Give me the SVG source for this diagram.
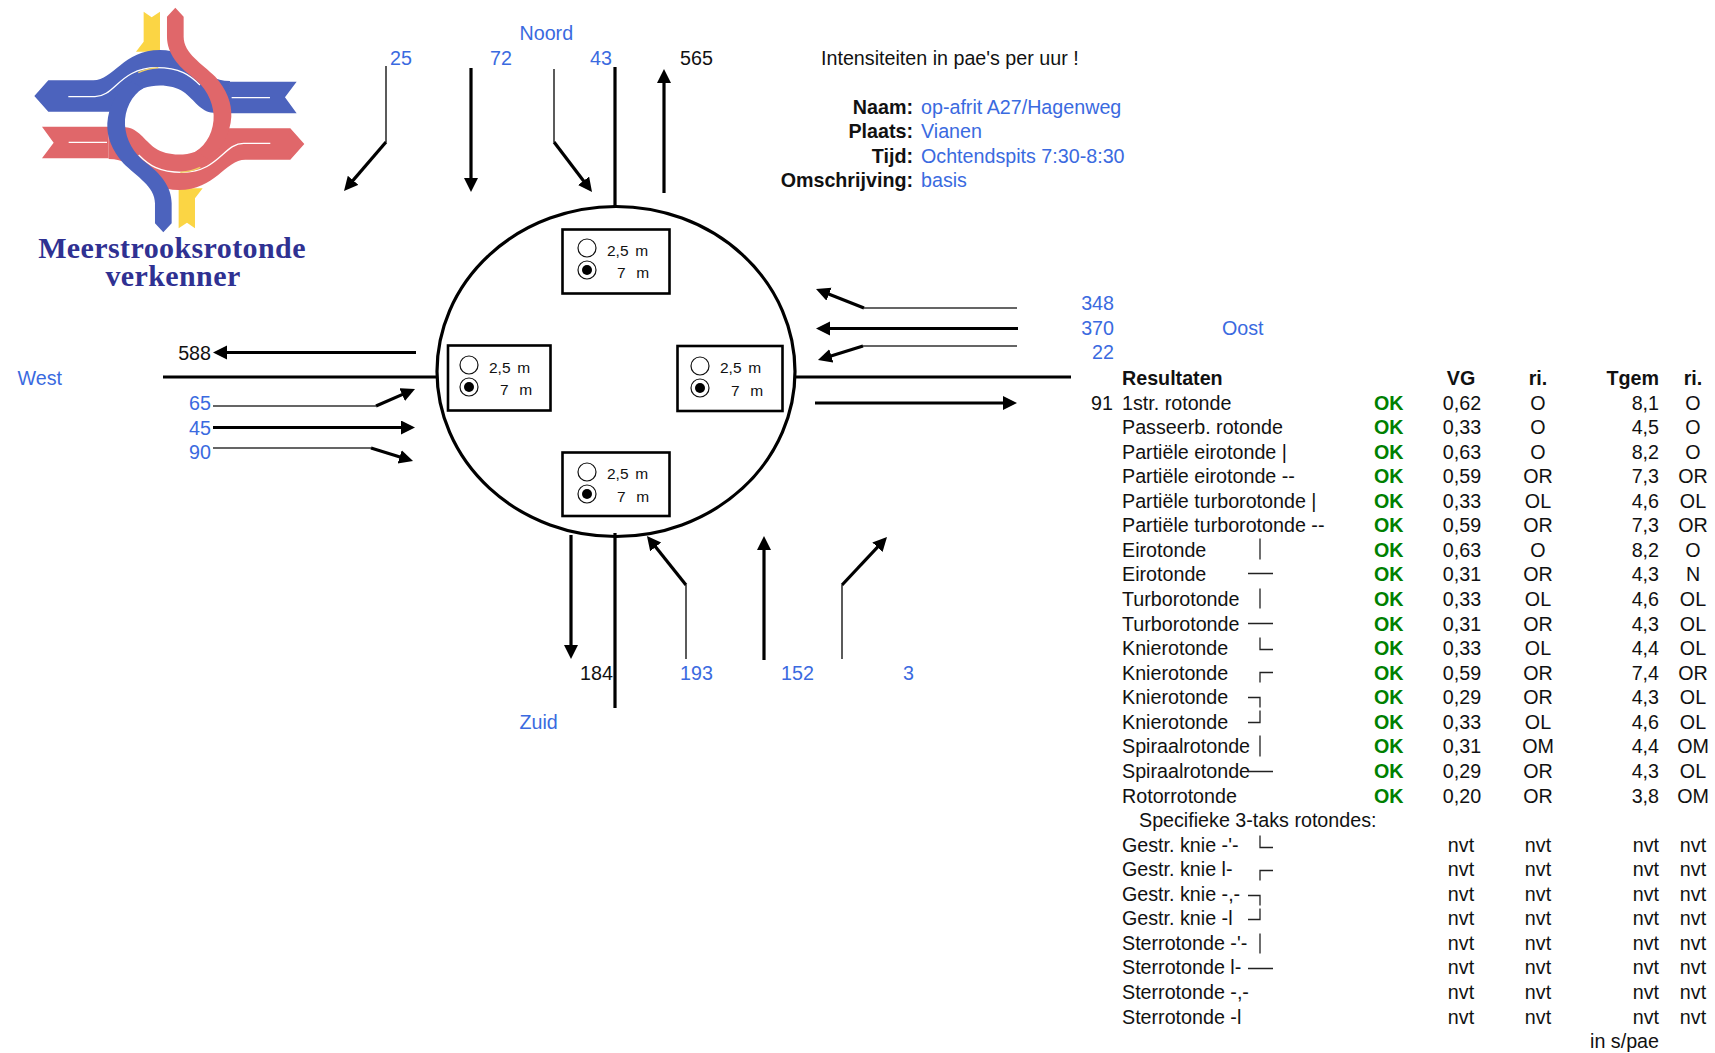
<svg xmlns="http://www.w3.org/2000/svg" width="1715" height="1053" viewBox="0 0 1715 1053">
<defs>
<style>
text{font-family:"Liberation Sans",Arial,sans-serif;font-size:19.7px;fill:#111;white-space:pre}
.b{fill:#3a6ae0}
.e{text-anchor:end}
.m{text-anchor:middle}
.h{font-weight:bold}
.ok{font-weight:bold;fill:#008000}
.s{font-size:15.5px}
.t{font-family:"Liberation Serif","Times New Roman",serif;font-weight:bold;font-size:30px;letter-spacing:.4px;fill:#2f3192;text-anchor:middle}
.thin{fill:none;stroke:#333;stroke-width:1.6}
.thick{fill:none;stroke:#000;stroke-width:3.2}
.ar{fill:none;stroke:#000;stroke-width:3.2;marker-end:url(#ah)}
.box{fill:#fff;stroke:#000;stroke-width:2.6}
.ro{fill:#fff;stroke:#111;stroke-width:1.2}
.rd{fill:#000}
.sym{fill:none;stroke:#222;stroke-width:1.3}
</style>
<marker id="ah" markerUnits="userSpaceOnUse" markerWidth="15" markerHeight="15" refX="8" refY="7" orient="auto"><path d="M0,0L14,7L0,14z" fill="#000"/></marker>
<g id="radio"><circle class="ro" cx="0" cy="0" r="9"/><circle class="ro" cx="0" cy="22" r="9"/><circle class="rd" cx="0" cy="22" r="5"/></g>
</defs>

<g id="logo">
<g transform="scale(.3333)">
<path fill="#fbd544" d="M431,35L455,52L480,35V155H408L431,125Z"/>
<path fill="#fbd544" d="M431,35L455,52L480,35V155H408L431,125Z" transform="rotate(180 508 360)"/>
<g id="red-band" transform="rotate(180 508 360)">
<path fill="#e0676a" d="M103,288L145,241H280C340,241 370,150 480,150C580,150 600,243 690,243V338H640C600,335 585,300 550,275C520,255 470,250 430,265C400,278 385,300 375,335H145Z"/>
<path fill="#e0676a" d="M690,245H890L855,292L890,340H690Z"/>
<path fill="none" stroke="#fff" stroke-width="4" d="M205,290H285C345,290 360,203 470,203C540,203 570,225 600,255M695,293H810"/>
<path fill="none" stroke="#f0d060" stroke-width="4" d="M415,218Q440,206 475,203"/>
</g>
<path fill="#4c63bd" d="M103,288L145,241H280C340,241 370,150 480,150C580,150 600,243 690,243V338H640C600,335 585,300 550,275C520,255 470,250 430,265C400,278 385,300 375,335H145Z"/>
<path fill="#4c63bd" d="M690,245H890L855,292L890,340H690Z"/>
<path fill="none" stroke="#fff" stroke-width="4" d="M205,290H285C345,290 360,203 470,203C540,203 570,225 600,255M695,293H810"/>
<path fill="none" stroke="#f0d060" stroke-width="4" d="M415,218Q440,206 475,203"/>
<path fill="#4c63bd" d="M465,670V610C465,560 410,530 370,490C335,450 320,410 322,370C325,320 350,270 395,245L430,265C395,285 373,330 375,375C378,420 400,460 440,490C480,520 515,560 515,610V670L490,697Z"/>
<path fill="#e0676a" d="M465,670V610C465,560 410,530 370,490C335,450 320,410 322,370C325,320 350,270 395,245L430,265C395,285 373,330 375,375C378,420 400,460 440,490C480,520 515,560 515,610V670L490,697Z" transform="rotate(180 508 360)"/>
</g>
<text class="t" x="172" y="258">Meerstrooksrotonde</text>
<text class="t" x="173" y="286">verkenner</text>
</g>

<g id="connectors">
<ellipse cx="616" cy="371.5" rx="179" ry="165" fill="none" stroke="#000" stroke-width="3.2"/>
<path class="thick" d="M615,67V207M615,533V708M163,377H437M796,377H1071"/>
<path class="thin" d="M386,66V142M554,69V142M213,406H376M213,448H371M1017,308H864M1017,346H863M686,659V585M842,659V585"/>
<path class="ar" d="M386,142L347.9,186.4"/>
<path class="ar" d="M471,68V186"/>
<path class="ar" d="M554,142L588.4,187.2"/>
<path class="ar" d="M664,193V75"/>
<path class="ar" d="M416,352.500H219"/>
<path class="ar" d="M376,406L409.5,391.4"/>
<path class="ar" d="M213,427.500H409"/>
<path class="ar" d="M371,448L407.3,459.2"/>
<path class="ar" d="M864,308L821.6,291.2"/>
<path class="ar" d="M1018,328.500H822"/>
<path class="ar" d="M863,346L823.7,358.2"/>
<path class="ar" d="M815,403H1011"/>
<path class="ar" d="M571,535V653"/>
<path class="ar" d="M686,585L650.7,540.7"/>
<path class="ar" d="M764,660V542"/>
<path class="ar" d="M842,585L882.9,541.4"/>
</g>

<g id="box-noord">
<rect class="box" x="562.5" y="229.5" width="107" height="64"/>
<use href="#radio" x="587" y="248"/>
<text class="s" x="607" y="256">2,5 <tspan dx="2.5">m</tspan></text>
<text class="s" x="617" y="278">7  <tspan dx="2">m</tspan></text>
</g>
<g id="box-west">
<rect class="box" x="448" y="345.5" width="102.5" height="65"/>
<use href="#radio" x="469" y="365"/>
<text class="s" x="489" y="373">2,5 <tspan dx="2.500">m</tspan></text>
<text class="s" x="500" y="395">7  <tspan dx="2">m</tspan></text>
</g>
<g id="box-oost">
<rect class="box" x="677.5" y="346" width="105" height="65"/>
<use href="#radio" x="700" y="366"/>
<text class="s" x="720" y="373">2,5 <tspan dx="2.5">m</tspan></text>
<text class="s" x="731" y="396">7  <tspan dx="2">m</tspan></text>
</g>
<g id="box-zuid">
<rect class="box" x="562.5" y="452.5" width="107" height="63.5"/>
<use href="#radio" x="587" y="472"/>
<text class="s" x="607" y="479">2,5 <tspan dx="2.5">m</tspan></text>
<text class="s" x="617" y="502">7  <tspan dx="2">m</tspan></text>
</g>

<g id="labels">
<text class="b" x="519.500" y="39.500">Noord</text>
<text class="b" x="390" y="65">25</text>
<text class="b" x="490" y="65">72</text>
<text class="b" x="590" y="65">43</text>
<text x="680" y="65">565</text>
<text class="b" x="17.500" y="384.500">West</text>
<text class="e" x="211" y="359.500">588</text>
<text class="b e" x="211" y="409.500">65</text>
<text class="b e" x="211" y="434.500">45</text>
<text class="b e" x="211" y="458.500">90</text>
<text class="b e" x="1114" y="310">348</text>
<text class="b e" x="1114" y="335">370</text>
<text class="b e" x="1114" y="359">22</text>
<text class="e" x="1113" y="409.500">91</text>
<text class="b" x="1222" y="335">Oost</text>
<text x="580" y="679.500">184</text>
<text class="b" x="680" y="679.500">193</text>
<text class="b" x="781" y="679.500">152</text>
<text class="b" x="903" y="679.500">3</text>
<text class="b" x="519.500" y="728.500">Zuid</text>
</g>

<g id="info">
<text x="821" y="65">Intensiteiten in pae's per uur !</text>
<text class="h e" x="913" y="114">Naam:</text><text class="b" x="921" y="114">op-afrit A27/Hagenweg</text>
<text class="h e" x="913" y="138">Plaats:</text><text class="b" x="921" y="138">Vianen</text>
<text class="h e" x="913" y="163">Tijd:</text><text class="b" x="921" y="163">Ochtendspits 7:30-8:30</text>
<text class="h e" x="913" y="187">Omschrijving:</text><text class="b" x="921" y="187">basis</text>
</g>

<g id="results" transform="translate(0 .5)">
<text class="h" x="1122" y="384">Resultaten</text><text class="h m" x="1461" y="384">VG</text><text class="h m" x="1538" y="384">ri.</text><text class="h e" x="1659" y="384">Tgem</text><text class="h m" x="1693" y="384">ri.</text>
<g><text x="1122" y="409">1str. rotonde</text><text class="ok" x="1374" y="409">OK</text><text class="m" x="1462" y="409">0,62</text><text class="m" x="1538" y="409">O</text><text class="e" x="1659" y="409">8,1</text><text class="m" x="1693" y="409">O</text></g>
<g><text x="1122" y="433.5">Passeerb. rotonde</text><text class="ok" x="1374" y="433.5">OK</text><text class="m" x="1462" y="433.5">0,33</text><text class="m" x="1538" y="433.5">O</text><text class="e" x="1659" y="433.5">4,5</text><text class="m" x="1693" y="433.5">O</text></g>
<g><text x="1122" y="458">Partiële eirotonde |</text><text class="ok" x="1374" y="458">OK</text><text class="m" x="1462" y="458">0,63</text><text class="m" x="1538" y="458">O</text><text class="e" x="1659" y="458">8,2</text><text class="m" x="1693" y="458">O</text></g>
<g><text x="1122" y="482.6">Partiële eirotonde --</text><text class="ok" x="1374" y="482.6">OK</text><text class="m" x="1462" y="482.6">0,59</text><text class="m" x="1538" y="482.6">OR</text><text class="e" x="1659" y="482.6">7,3</text><text class="m" x="1693" y="482.6">OR</text></g>
<g><text x="1122" y="507.2">Partiële turborotonde |</text><text class="ok" x="1374" y="507.2">OK</text><text class="m" x="1462" y="507.2">0,33</text><text class="m" x="1538" y="507.2">OL</text><text class="e" x="1659" y="507.2">4,6</text><text class="m" x="1693" y="507.2">OL</text></g>
<g><text x="1122" y="531.7">Partiële turborotonde --</text><text class="ok" x="1374" y="531.7">OK</text><text class="m" x="1462" y="531.7">0,59</text><text class="m" x="1538" y="531.7">OR</text><text class="e" x="1659" y="531.7">7,3</text><text class="m" x="1693" y="531.7">OR</text></g>
<g><text x="1122" y="556.3">Eirotonde</text><text class="ok" x="1374" y="556.3">OK</text><text class="m" x="1462" y="556.3">0,63</text><text class="m" x="1538" y="556.3">O</text><text class="e" x="1659" y="556.3">8,2</text><text class="m" x="1693" y="556.3">O</text></g>
<g><text x="1122" y="580.9">Eirotonde</text><text class="ok" x="1374" y="580.9">OK</text><text class="m" x="1462" y="580.9">0,31</text><text class="m" x="1538" y="580.9">OR</text><text class="e" x="1659" y="580.9">4,3</text><text class="m" x="1693" y="580.9">N</text></g>
<g><text x="1122" y="605.4">Turborotonde</text><text class="ok" x="1374" y="605.4">OK</text><text class="m" x="1462" y="605.4">0,33</text><text class="m" x="1538" y="605.4">OL</text><text class="e" x="1659" y="605.4">4,6</text><text class="m" x="1693" y="605.4">OL</text></g>
<g><text x="1122" y="630">Turborotonde</text><text class="ok" x="1374" y="630">OK</text><text class="m" x="1462" y="630">0,31</text><text class="m" x="1538" y="630">OR</text><text class="e" x="1659" y="630">4,3</text><text class="m" x="1693" y="630">OL</text></g>
<g><text x="1122" y="654.500">Knierotonde</text><text class="ok" x="1374" y="654.5">OK</text><text class="m" x="1462" y="654.5">0,33</text><text class="m" x="1538" y="654.5">OL</text><text class="e" x="1659" y="654.5">4,4</text><text class="m" x="1693" y="654.5">OL</text></g>
<g><text x="1122" y="679">Knierotonde</text><text class="ok" x="1374" y="679">OK</text><text class="m" x="1462" y="679">0,59</text><text class="m" x="1538" y="679">OR</text><text class="e" x="1659" y="679">7,4</text><text class="m" x="1693" y="679">OR</text></g>
<g><text x="1122" y="703.6">Knierotonde</text><text class="ok" x="1374" y="703.6">OK</text><text class="m" x="1462" y="703.6">0,29</text><text class="m" x="1538" y="703.6">OR</text><text class="e" x="1659" y="703.6">4,3</text><text class="m" x="1693" y="703.6">OL</text></g>
<g><text x="1122" y="728.1">Knierotonde</text><text class="ok" x="1374" y="728.1">OK</text><text class="m" x="1462" y="728.1">0,33</text><text class="m" x="1538" y="728.1">OL</text><text class="e" x="1659" y="728.1">4,6</text><text class="m" x="1693" y="728.1">OL</text></g>
<g><text x="1122" y="752.7">Spiraalrotonde</text><text class="ok" x="1374" y="752.7">OK</text><text class="m" x="1462" y="752.7">0,31</text><text class="m" x="1538" y="752.7">OM</text><text class="e" x="1659" y="752.7">4,4</text><text class="m" x="1693" y="752.7">OM</text></g>
<g><text x="1122" y="777.2">Spiraalrotonde</text><text class="ok" x="1374" y="777.2">OK</text><text class="m" x="1462" y="777.2">0,29</text><text class="m" x="1538" y="777.2">OR</text><text class="e" x="1659" y="777.2">4,3</text><text class="m" x="1693" y="777.2">OL</text></g>
<g><text x="1122" y="802">Rotorrotonde</text><text class="ok" x="1374" y="802">OK</text><text class="m" x="1462" y="802">0,20</text><text class="m" x="1538" y="802">OR</text><text class="e" x="1659" y="802">3,8</text><text class="m" x="1693" y="802">OM</text></g>
<text x="1139" y="826.5">Specifieke 3-taks rotondes:</text>
<g><text x="1122" y="851.2">Gestr. knie -'-</text><text class="m" x="1461" y="851.2">nvt</text><text class="m" x="1538" y="851.2">nvt</text><text class="e" x="1659" y="851.2">nvt</text><text class="m" x="1693" y="851.2">nvt</text></g>
<g><text x="1122" y="875.7">Gestr. knie l-</text><text class="m" x="1461" y="875.7">nvt</text><text class="m" x="1538" y="875.7">nvt</text><text class="e" x="1659" y="875.7">nvt</text><text class="m" x="1693" y="875.7">nvt</text></g>
<g><text x="1122" y="900.3">Gestr. knie -,-</text><text class="m" x="1461" y="900.3">nvt</text><text class="m" x="1538" y="900.3">nvt</text><text class="e" x="1659" y="900.3">nvt</text><text class="m" x="1693" y="900.3">nvt</text></g>
<g><text x="1122" y="924.8">Gestr. knie -l</text><text class="m" x="1461" y="924.8">nvt</text><text class="m" x="1538" y="924.8">nvt</text><text class="e" x="1659" y="924.8">nvt</text><text class="m" x="1693" y="924.8">nvt</text></g>
<g><text x="1122" y="949.4">Sterrotonde -'-</text><text class="m" x="1461" y="949.4">nvt</text><text class="m" x="1538" y="949.4">nvt</text><text class="e" x="1659" y="949.4">nvt</text><text class="m" x="1693" y="949.4">nvt</text></g>
<g><text x="1122" y="973.9">Sterrotonde l-</text><text class="m" x="1461" y="973.9">nvt</text><text class="m" x="1538" y="973.9">nvt</text><text class="e" x="1659" y="973.9">nvt</text><text class="m" x="1693" y="973.9">nvt</text></g>
<g><text x="1122" y="998.5">Sterrotonde -,-</text><text class="m" x="1461" y="998.5">nvt</text><text class="m" x="1538" y="998.5">nvt</text><text class="e" x="1659" y="998.5">nvt</text><text class="m" x="1693" y="998.5">nvt</text></g>
<g><text x="1122" y="1023">Sterrotonde -l</text><text class="m" x="1461" y="1023">nvt</text><text class="m" x="1538" y="1023">nvt</text><text class="e" x="1659" y="1023">nvt</text><text class="m" x="1693" y="1023">nvt</text></g>
<text class="e" x="1659" y="1047.5">in s/pae</text>
<path class="sym" d="M1260,538V559M1248,573H1273M1260,588V608M1248,623H1273M1260,637V649H1273M1273,672H1260V682M1248,697H1260V707M1260,710V722H1248M1260,735V756M1248,771H1273"/>
<path class="sym" d="M1260,835V847H1273M1273,870H1260V880M1248,895H1260V905M1260,908V919H1248M1260,933V953M1248,968H1273"/>
</g>
</svg>
